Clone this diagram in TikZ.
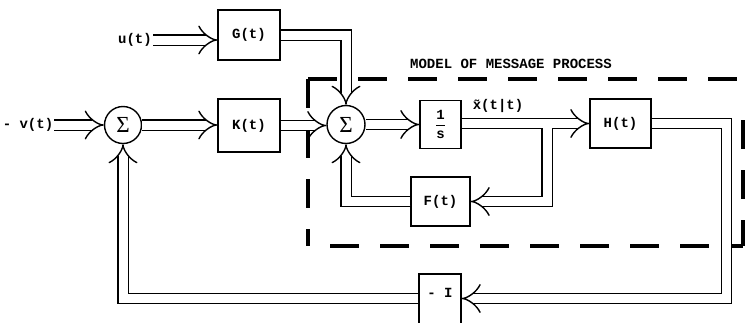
\documentclass[tikz,border=0pt]{standalone}
\usepackage{fontspec}
\setmonofont{Liberation Mono}
\newfontfamily\sigfont{Liberation Serif}
\usetikzlibrary{arrows.meta}
\begin{document}
\begin{tikzpicture}[x=1pt,y=-1pt,
  lbl/.style={font=\fontsize{14}{16}\selectfont\ttfamily\bfseries, inner sep=1pt},
  box/.style={draw, line width=1.3pt, rectangle, lbl, inner sep=0pt},
  sumc/.style={draw, circle, line width=1.4pt, minimum size=37pt, inner sep=0pt, font=\fontsize{23}{23}\selectfont\sigfont},
  dbl/.style={double, double distance=9pt, line width=1.4pt, -{Implies}},
  frame/.style={line width=3.5pt, dash pattern=on 29pt off 21pt}]
\useasboundingbox (0,0) rectangle (745,322);
% frame
\draw[frame] (308,79) -- (743,79);
\draw[frame] (308,79) -- (308,246);
\draw[frame] (330,246) -- (743,246);
\draw[frame] (743,120) -- (743,246);
\node[lbl] (title) at (511,64) {MODEL OF MESSAGE PROCESS};
% nodes
\node[lbl] (u) at (135,40) {u(t)};
\node[box, minimum width=62pt, minimum height=50pt] (G) at (249,35) {G(t)};
\node[lbl] (v) at (28,125) {- v(t)};
\node[sumc] (s1) at (123,125) {Σ};
\node[box, minimum width=62pt, minimum height=53pt] (K) at (249,125.5) {K(t)};
\node[sumc, minimum size=38pt] (s2) at (346,124.5) {Σ};
\node[box, minimum width=41pt, minimum height=48pt] (I) at (440.5,124.5)
  {$\displaystyle\frac{\hbox{\ttfamily\bfseries 1}}{\hbox{\ttfamily\bfseries s}}$};
\node[lbl] (xt) at (498,106) {\~x(t|t)};
\node[box, minimum width=61pt, minimum height=49pt] (H) at (620.5,123.5) {H(t)};
\node[box, minimum width=59pt, minimum height=49pt] (F) at (440.5,201.5) {F(t)};
\node[box, minimum width=42pt, minimum height=60pt] (N) at (440,304) {\strut};
\node[lbl] (Nt) at (440,293) {- I};
\coordinate (br) at (547,128);
\coordinate (hc) at (726.5,298.5);
% connectors
\draw[dbl] (u.east) -- (u.east -| G.west);
\draw[dbl] (G.east) -| (s2.north);
\draw[dbl] (v.east) -- (s1.west);
\draw[dbl] (s1.east) -- (s1.east -| K.west);
\draw[dbl] (K.east) -- (K.east -| s2.west);
\draw[dbl] (s2.east) -- (s2.east -| I.west);
\draw[dbl] (I.east |- H.west) -- (H.west);
\draw[dbl] (br) |- (F.east);
\draw[dbl] (F.west) -| (s2.south);
\draw[dbl] (H.east) -| (hc) -- (hc -| N.east);
\draw[dbl] (hc -| N.west) -| (s1.south);
\end{tikzpicture}
\end{document}
